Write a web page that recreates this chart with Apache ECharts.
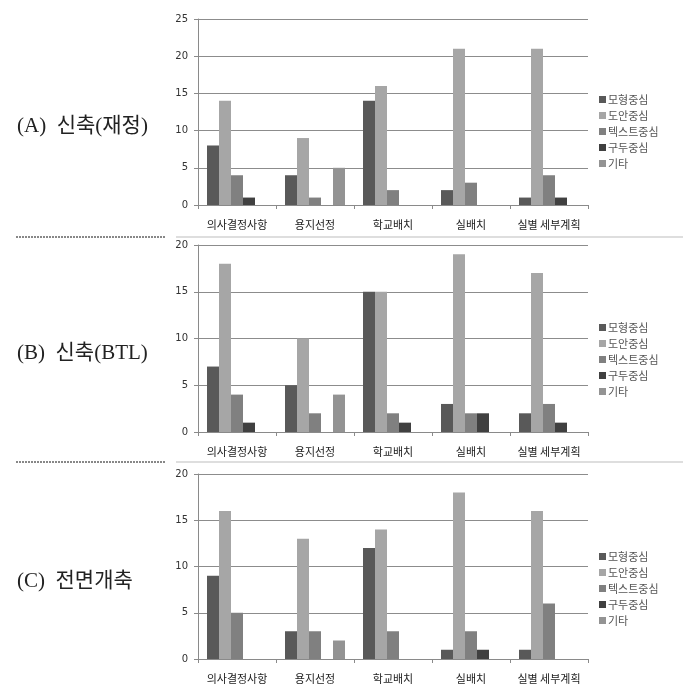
<!DOCTYPE html>
<html><head><meta charset="utf-8">
<script src="https://cdn.jsdelivr.net/npm/echarts@6/dist/echarts.min.js"></script>
<style>html,body{margin:0;padding:0;background:#fff}#c{width:683px;height:692px}</style>
</head><body><div id="c"></div>
<script>
var categories = ['의사결정사항','용지선정','학교배치','실배치','실별 세부계획'];
var seriesNames = ['모형중심','도안중심','텍스트중심','구두중심','기타'];
var panelTitles = ['(A)  신축(재정)','(B)  신축(BTL)','(C)  전면개축'];
var yMax = [25, 20, 20];
var yInterval = 5;
// panel A
var a_model = [8,4,14,2,1];
var a_drawing = [14,9,16,21,21];
var a_text = [4,1,2,3,4];
var a_oral = [1,0,0,0,1];
var a_etc = [0,5,0,0,0];
// panel B
var b_model = [7,5,15,3,2];
var b_drawing = [18,10,15,19,17];
var b_text = [4,2,2,2,3];
var b_oral = [1,0,1,2,1];
var b_etc = [0,4,0,0,0];
// panel C
var c_model = [9,3,12,1,1];
var c_drawing = [16,13,14,18,16];
var c_text = [5,3,3,3,6];
var c_oral = [0,0,0,1,0];
var c_etc = [0,2,0,0,0];

var panels = [
  [a_model,a_drawing,a_text,a_oral,a_etc],
  [b_model,b_drawing,b_text,b_oral,b_etc],
  [c_model,c_drawing,c_text,c_oral,c_etc]
];
var colors = ['#595959','#a6a6a6','#808080','#404040','#939393'];

var grids = [
  {left:198, top:19, width:390, height:186},
  {left:198, top:245, width:390, height:187},
  {left:198, top:474, width:390, height:185}
];
var legendTops = [88, 316, 545];
var titleCenters = [125, 352, 580];

var xAxes = [], yAxes = [], series = [], legends = [], titles = [];
for (var p = 0; p < 3; p++) {
  xAxes.push({
    type:'category', gridIndex:p, data:categories,
    axisLine:{lineStyle:{color:'#8a8a8a'}},
    axisTick:{show:true, length:4, lineStyle:{color:'#8a8a8a'}},
    axisLabel:{color:'#222', fontSize:11, margin:14, interval:0, fontFamily:'Noto Sans CJK KR'}
  });
  yAxes.push({
    type:'value', gridIndex:p, min:0, max:yMax[p], interval:yInterval,
    axisLine:{show:true, lineStyle:{color:'#8a8a8a'}},
    axisTick:{show:true, length:4, lineStyle:{color:'#8a8a8a'}},
    axisLabel:{color:'#333', fontSize:10, margin:10, fontFamily:'DejaVu Sans'},
    splitLine:{lineStyle:{color:'#8c8c8c', width:1}}
  });
  for (var s = 0; s < 5; s++) {
    series.push({
      type:'bar', name:seriesNames[s], xAxisIndex:p, yAxisIndex:p,
      data:panels[p][s], barWidth:12, barGap:'0%',
      itemStyle:{color:colors[s]}, silent:true
    });
  }
  legends.push({
    orient:'vertical', left:594, top:legendTops[p], data:seriesNames,
    itemWidth:7, itemHeight:7, itemGap:3, icon:'rect',
    textStyle:{color:'#555', fontSize:11, lineHeight:13, padding:[0,0,0,-3], fontFamily:'Noto Sans CJK KR'},
    selectedMode:false
  });
  titles.push({
    text:panelTitles[p], left:12, top:titleCenters[p]-14,
    textStyle:{fontSize:21, fontWeight:'normal', color:'#222', fontFamily:'Liberation Serif, Noto Sans CJK KR'}
  });
}

var graphics = [];
[237, 462].forEach(function(y){
  graphics.push({type:'line', shape:{x1:176,y1:y,x2:683,y2:y}, style:{stroke:'#bdbdbd', lineWidth:1}, silent:true});
  graphics.push({type:'line', shape:{x1:16,y1:y,x2:166,y2:y}, style:{stroke:'#111', lineWidth:1, lineDash:[2,1]}, silent:true});
});

var chart = echarts.init(document.getElementById('c'));
chart.setOption({
  animation:false,
  color:colors,
  title:titles,
  legend:legends,
  grid:grids,
  xAxis:xAxes,
  yAxis:yAxes,
  series:series,
  graphic:graphics
});
</script></body></html>
